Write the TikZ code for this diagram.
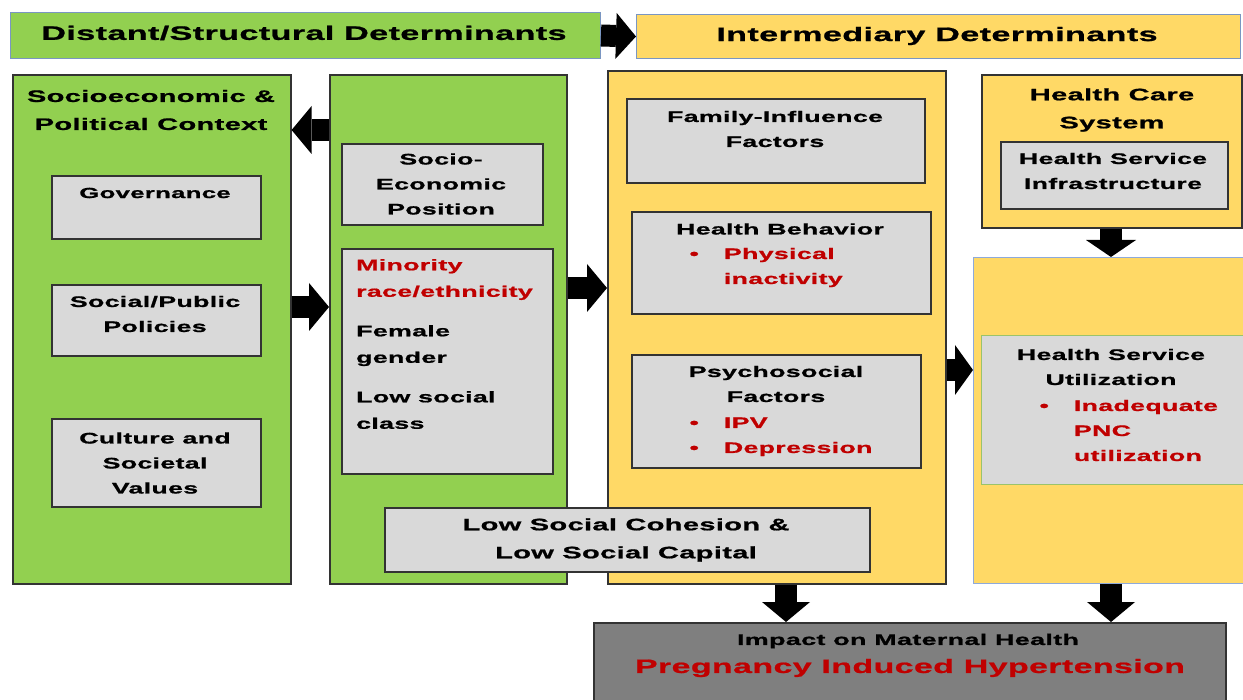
\documentclass[tikz,border=0pt]{standalone}
\usepackage{fontspec}
\newfontfamily\dfont{Liberation Sans}[FakeStretch=1.75,LetterSpace=2,FakeBold=1]
\usetikzlibrary{arrows.meta,positioning}

\definecolor{pgreen}{HTML}{92D050}
\definecolor{pyellow}{HTML}{FFD966}
\definecolor{pgray}{HTML}{D9D9D9}
\definecolor{pdark}{HTML}{7F7F7F}
\definecolor{pred}{HTML}{C00000}
\definecolor{pblue}{HTML}{7A96C2}
\definecolor{pltblue}{HTML}{8EAADB}
\definecolor{pltgreen}{HTML}{9BC36B}
\definecolor{pline}{HTML}{333333}

\tikzset{
  banner/.style={draw=pblue, line width=1pt, anchor=north west, inner sep=0pt},
  col/.style={draw=pline, line width=1.6pt, anchor=north west, inner sep=0pt},
  graybox/.style={fill=pgray, draw=pline, line width=1.6pt, anchor=north west, inner sep=0pt},
  bigtxt/.style={font=\dfont\bfseries\fontsize{19.5}{24}\selectfont},
  headtxt/.style={font=\dfont\bfseries\fontsize{16.6}{28}\selectfont, align=center},
  boxtxt/.style={font=\dfont\bfseries\fontsize{15.3}{25}\selectfont, align=center},
  blockarrow/.style={line width=22pt, -{Triangle[length=20pt,width=48pt,line width=0pt]}},
}

\begin{document}
\begin{tikzpicture}[x=1pt,y=-1pt]
  \clip (0,0) rectangle (1243,700);
  \fill[white] (0,0) rectangle (1243,700);

  % headers
  \node[banner, fill=pgreen, minimum width=590, minimum height=46] (distant) at (10,12) {};
  \node[bigtxt] (distanttxt) at (304,33) {Distant/Structural Determinants};
  \node[banner, fill=pyellow, minimum width=604, minimum height=44] (inter) at (636,14) {};
  \node[bigtxt] (intertxt) at (937,36) {Intermediary Determinants};

  % columns
  \node[col, fill=pgreen, minimum width=278, minimum height=509] (leftcol) at (12,74) {};
  \node[col, fill=pgreen, minimum width=237, minimum height=509] (midcol) at (329,74) {};
  \node[col, fill=pyellow, minimum width=338, minimum height=513] (ycol) at (607,70) {};
  \node[col, fill=pyellow, minimum width=260, minimum height=153] (hcs) at (981,74) {};
  \node[banner, fill=pyellow, draw=pltblue, minimum width=272, minimum height=326] (hsu) at (973,257) {};

  % structural side
  \node[headtxt] (ctxtxt) at (151,110) {Socioeconomic \&\\Political Context};
  \node[graybox, minimum width=209, minimum height=63] (gov) at (51,175) {};
  \node[boxtxt, font=\dfont\bfseries\fontsize{14.7}{25}\selectfont] (govtxt) at (155,193) {Governance};
  \node[graybox, minimum width=209, minimum height=71] (pol) at (51,284) {};
  \node[boxtxt] (poltxt) at (155,314) {Social/Public\\Policies};
  \node[graybox, minimum width=209, minimum height=88] (cul) at (51,418) {};
  \node[boxtxt] (cultxt) at (155,463) {Culture and\\Societal\\Values};

  \node[graybox, minimum width=201, minimum height=81] (sep) at (341,143) {};
  \node[boxtxt] (septxt) at (441,184) {Socio-\\Economic\\Position};
  \node[graybox, minimum width=211, minimum height=225] (risk) at (341,248) {};
  \node[boxtxt, font=\dfont\bfseries\fontsize{15.3}{26.5}\selectfont, align=left, anchor=north west, inner sep=0pt] (risktxt) at (356,259)
    {\textcolor{pred}{Minority}\\\textcolor{pred}{race/ethnicity}\\[13pt]Female\\gender\\[13pt]Low social\\class};

  % intermediary side
  \node[graybox, minimum width=298, minimum height=84] (fam) at (626,98) {};
  \node[boxtxt] (famtxt) at (775,129) {Family-Influence\\Factors};
  \node[graybox, minimum width=299, minimum height=102] (beh) at (631,211) {};
  \node[boxtxt] (behtxt) at (780,229) {Health Behavior};
  \node[boxtxt, anchor=base west, text=pred] (behlist) at (686,259)
    {\begin{tabular}[t]{@{}l@{\hspace{25pt}}l@{}}\textbullet & Physical\\ & inactivity\end{tabular}};
  \node[graybox, minimum width=289, minimum height=113] (psy) at (631,354) {};
  \node[boxtxt] (psytxt) at (776,384) {Psychosocial\\Factors};
  \node[boxtxt, anchor=base west, text=pred] (psylist) at (686,428)
    {\begin{tabular}[t]{@{}l@{\hspace{25pt}}l@{}}\textbullet & IPV\\\textbullet & Depression\end{tabular}};

  \node[graybox, minimum width=485, minimum height=64] (coh) at (384,507) {};
  \node[boxtxt, font=\dfont\bfseries\fontsize{16.6}{28}\selectfont] (cohtxt) at (626,540)
    {Low Social Cohesion \&\\Low Social Capital};

  \node[headtxt] (hcstxt) at (1112,110) {Health Care\\System};
  \node[graybox, minimum width=227, minimum height=67] (infra) at (1000,141) {};
  \node[boxtxt] (infratxt) at (1113,171) {Health Service\\Infrastructure};
  \node[graybox, draw=pltgreen, line width=1pt, minimum width=262, minimum height=149] (util) at (981,335) {};
  \node[boxtxt] (utiltxt) at (1111,367) {Health Service\\Utilization};
  \node[boxtxt, anchor=base west, text=pred] (utillist) at (1036,411)
    {\begin{tabular}[t]{@{}l@{\hspace{25pt}}l@{}}\textbullet & Inadequate\\ & PNC\\ & utilization\end{tabular}};

  % outcome
  \node[graybox, fill=pdark, minimum width=632, minimum height=90] (impact) at (593,622) {};
  \node[boxtxt, font=\dfont\bfseries\fontsize{15.4}{18}\selectfont] (impacttxt) at (908,641) {Impact on Maternal Health};
  \node[boxtxt, text=pred, font=\dfont\bfseries\fontsize{19.4}{26}\selectfont] (pihtxt) at (910,668) {Pregnancy Induced Hypertension};

  % block arrows
  \path (0,130) coordinate (rowA) (0,307) coordinate (rowB) (0,288) coordinate (rowC) (0,370) coordinate (rowD);
  \path (786,0) coordinate (colA) (1111,0) coordinate (colB);
  \draw[blockarrow, -{Triangle[length=20pt,width=46pt,line width=0pt]}] (distant.east) -- (inter.west);
  \draw[blockarrow] (midcol.west |- rowA) -- (leftcol.east |- rowA);
  \draw[blockarrow] (leftcol.east |- rowB) -- (midcol.west |- rowB);
  \draw[blockarrow] (midcol.east |- rowC) -- (ycol.west |- rowC);
  \draw[blockarrow, -{Triangle[length=18pt,width=50pt,line width=0pt]}] (ycol.east |- rowD) -- (hsu.west |- rowD);
  \draw[blockarrow, -{Triangle[length=17pt,width=50pt,line width=0pt]}] (hcs.south -| colB) -- (hsu.north -| colB);
  \draw[blockarrow] (ycol.south -| colA) -- (impact.north -| colA);
  \draw[blockarrow] (hsu.south -| colB) -- (impact.north -| colB);
\end{tikzpicture}
\end{document}
